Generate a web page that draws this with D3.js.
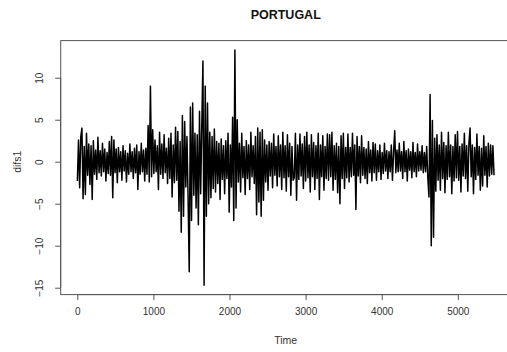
<!DOCTYPE html>
<html>
<head>
<meta charset="utf-8">
<script src="https://cdn.jsdelivr.net/npm/d3@7"></script>
<style>
  html, body { margin: 0; padding: 0; background: #fff; }
  svg { display: block; font-family: "Liberation Sans", Arial, sans-serif; }
</style>
</head>
<body>
<svg id="chart" width="507" height="352"></svg>
<script>
// Daily differences of the Portuguese series (difs1), sampled every 15 observations.
const title = "PORTUGAL";
const xLabel = "Time";
const yLabel = "difs1";
const seriesStart = 1;
const sampleStep = 15;
const xTicks = [0, 1000, 2000, 3000, 4000, 5000];
const yTicks = [-15, -10, -5, 0, 5, 10];

const difs1 = [
  -2.3, 2.6, -3.1, 3.0, 4.0, -4.4, 1.8, -3.9, 3.4, -1.6, 2.1, -2.7, 1.9, -4.5, 2.5, -1.5, 1.4, -2.1, 2.9, -1.3,
  1.3, -1.7, 2.2, -1.2, 1.5, -2.3, 1.1, -1.4, 2.4, -1.6, 3.0, -4.3, 2.6, -1.3, 1.5, -2.5, 1.7, -1.2, 1.2, -2.2,
  1.9, -1.1, 1.3, -2.4, 1.0, -1.5, 2.1, -1.2, 1.2, -2.0, 1.6, -1.3, 2.0, -3.3, 1.2, -1.5, 2.2, -1.2, 1.4, -2.3,
  1.6, -1.5, 4.3, -2.4, 9.0, -1.8, 3.8, -1.4, 2.6, -1.2, 1.9, -3.3, 3.5, -1.5, 2.1, -2.0, 3.2, -1.3, 1.6, -2.6,
  2.8, -2.0, 3.4, -4.2, 2.0, -2.5, 4.1, -2.2, 3.6, -5.9, 2.4, -8.4, 5.5, -6.5, 4.8, -3.0, 3.0, -4.4, -13.1, 6.5,
  -7.0, 7.0, -4.0, 3.4, -5.5, 3.2, -7.5, 6.0, -3.8, 4.4, 12.0, -14.7, 9.0, -6.5, 7.0, -5.0, 3.5, -4.3, 3.0, -3.2,
  3.9, -3.6, 2.4, -2.6, 2.2, -4.5, 2.7, -2.1, 1.9, -3.8, 2.5, -2.0, 3.4, -6.0, 2.0, -3.0, 5.3, -7.0, 13.3, -5.5,
  5.0, -2.4, 2.2, -3.6, 3.4, -1.9, 1.8, -3.9, 2.5, -2.0, 2.0, -3.3, 3.5, -1.8, 1.9, -2.6, 3.0, -6.3, 4.0, -4.8,
  3.5, -6.5, 3.8, -4.6, 2.6, -2.4, 2.0, -3.4, 2.4, -1.7, 2.2, -3.1, 3.3, -1.6, 1.8, -2.9, 3.1, -1.8, 2.0, -3.3,
  3.5, -1.9, 1.9, -3.5, 3.2, -1.8, 2.2, -4.0, 1.8, -2.2, -1.9, 3.4, -4.6, 2.0, -2.1, 3.3, -1.7, 2.1, -3.2, 3.0,
  -2.3, 3.5, -1.9, 2.0, -3.6, 3.2, -1.8, 2.3, -3.3, 1.9, -2.0, 3.4, -4.5, 2.0, -1.8, 3.1, -3.4, 1.8, -2.0, 3.3,
  -2.2, 3.2, -1.8, 3.5, -3.4, 1.9, -2.1, 2.2, -3.7, 1.8, -5.0, 3.1, -2.0, 3.4, -3.2, 1.7, -1.9, 3.3, -2.4, 1.7,
  -1.8, 3.4, -1.6, 2.0, -5.7, 3.0, -1.7, 1.8, -2.5, 3.1, -1.6, 1.7, -2.0, 1.5, -2.6, 2.4, -1.3, 1.4, -2.3, 2.3,
  -1.3, 2.1, -2.2, 1.3, -1.2, 2.0, -2.1, 1.1, -1.4, 2.2, -1.1, 1.3, -2.0, 1.2, -1.2, 2.0, -2.2, 1.1, 3.7, -1.3,
  1.4, -1.2, 2.2, -1.1, 1.2, -2.0, 2.4, -1.2, 1.3, -2.3, 1.5, -1.0, 1.2, -1.9, 2.3, -1.2, 1.1, -1.8, 2.1, -1.1,
  1.2, -1.0, 1.9, -1.3, 1.1, -1.2, 1.8, -2.0, -4.2, 8.0, -10.0, 4.9, -9.0, 2.8, -3.5, 3.2, -2.2, 2.0, -3.4, 3.5,
  -2.0, 2.3, -3.7, 1.9, -2.1, 3.5, -1.8, 2.0, -3.8, 1.8, -2.3, 3.2, -1.9, 3.6, -2.2, 1.8, -3.6, 2.1, -1.7, 3.4,
  -2.0, 1.9, -3.5, 2.2, 4.0, -1.8, 2.0, -3.8, 1.7, -2.1, 3.3, -1.6, 1.8, -3.4, 1.6, -2.9, 3.1, -1.6, 1.8, -3.0,
  2.2, -1.7, 2.0, -1.5, 1.9, -1.6
];

const points = difs1.map((v, i) => ({ t: seriesStart + i * sampleStep, v }));

// Plot region, with axis limits padded by 4% like R's default
const plot = { left: 60.7, right: 510.7, top: 40.6, bottom: 294.6 };
function padded(extent) {
  const pad = (extent[1] - extent[0]) * 0.04;
  return [extent[0] - pad, extent[1] + pad];
}
const x = d3.scaleLinear()
  .domain(padded(d3.extent(points, d => d.t)))
  .range([plot.left, plot.right]);
const y = d3.scaleLinear()
  .domain(padded(d3.extent(points, d => d.v)))
  .range([plot.bottom, plot.top]);

const svg = d3.select("#chart");
const axisColor = "#555";
const textColor = "#333";

// Series line
svg.append("path")
  .datum(points)
  .attr("fill", "none")
  .attr("stroke", "#000")
  .attr("stroke-width", 1.5)
  .attr("stroke-linejoin", "round")
  .attr("d", d3.line().x(d => x(d.t)).y(d => y(d.v)));

// Box around the plot region
svg.append("rect")
  .attr("x", plot.left).attr("y", plot.top)
  .attr("width", plot.right - plot.left).attr("height", plot.bottom - plot.top)
  .attr("fill", "none").attr("stroke", axisColor).attr("stroke-width", 1);

// Bottom axis
const xAxis = svg.append("g")
  .attr("transform", `translate(0,${plot.bottom})`)
  .call(d3.axisBottom(x).tickValues(xTicks).tickSize(5.5).tickPadding(8).tickFormat(d3.format("d")));
xAxis.select(".domain")
  .attr("d", `M${x(xTicks[0])},0H${x(xTicks[xTicks.length - 1])}`);
xAxis.selectAll("line, path").attr("stroke", axisColor);
xAxis.selectAll("text").attr("fill", textColor).style("font-size", "10px")
  .style("font-family", "'Liberation Sans', Arial, sans-serif");

// Left axis with rotated labels
const yAxis = svg.append("g")
  .attr("transform", `translate(${plot.left},0)`)
  .call(d3.axisLeft(y).tickValues(yTicks).tickSize(5.5).tickFormat(d3.format("d")));
yAxis.select(".domain")
  .attr("d", `M0,${y(yTicks[0])}V${y(yTicks[yTicks.length - 1])}`);
yAxis.selectAll("line, path").attr("stroke", axisColor);
yAxis.selectAll("text")
  .attr("x", 0).attr("dy", null)
  .attr("transform", "translate(-20,0) rotate(-90)")
  .attr("text-anchor", "middle")
  .attr("dominant-baseline", "middle")
  .attr("fill", textColor).style("font-size", "10px")
  .style("font-family", "'Liberation Sans', Arial, sans-serif");

// Titles
svg.append("text")
  .attr("x", (plot.left + plot.right) / 2).attr("y", 19)
  .attr("text-anchor", "middle")
  .attr("font-weight", "bold").attr("font-size", 12.5)
  .attr("fill", "#111")
  .text(title);

svg.append("text")
  .attr("x", (plot.left + plot.right) / 2).attr("y", 344)
  .attr("text-anchor", "middle")
  .attr("font-size", 10.5).attr("fill", textColor)
  .text(xLabel);

svg.append("text")
  .attr("transform", `translate(21,${y(0)}) rotate(-90)`)
  .attr("text-anchor", "middle")
  .attr("font-size", 10.5).attr("fill", textColor)
  .text(yLabel);
</script>
</body>
</html>
